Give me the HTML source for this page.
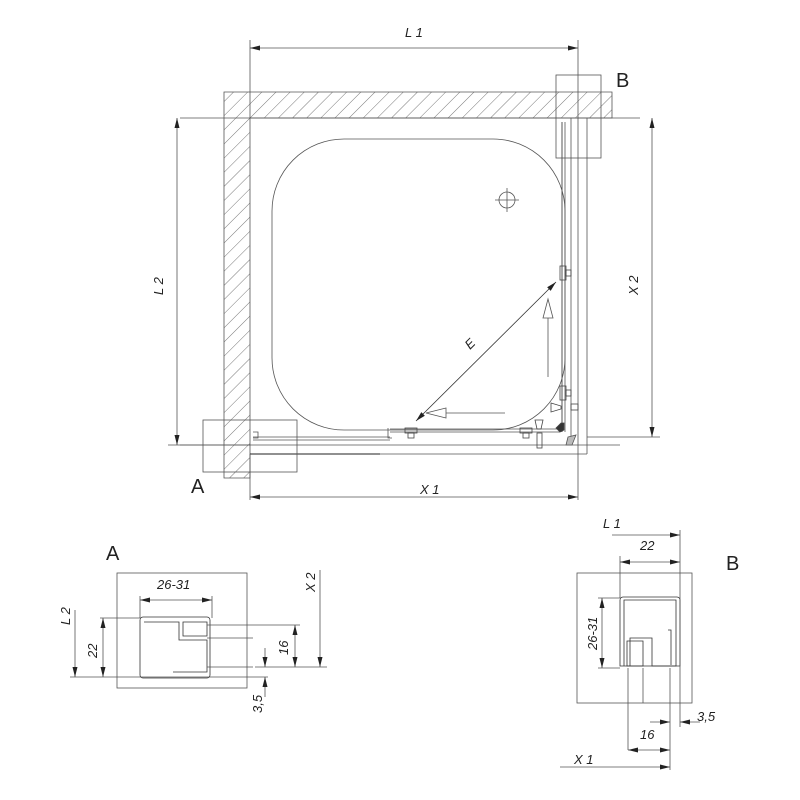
<!DOCTYPE html>
<html><head><meta charset="utf-8"><style>
html,body{margin:0;padding:0;background:#fff;width:800px;height:800px;overflow:hidden}
svg{display:block}
text{font-family:"Liberation Sans",sans-serif;fill:#222}
.it{font-style:italic;font-size:13px}
</style></head><body>
<svg width="800" height="800" viewBox="0 0 800 800" xmlns="http://www.w3.org/2000/svg">
<defs>
<pattern id="h" patternUnits="userSpaceOnUse" width="10" height="10" patternTransform="rotate(45)">
<line x1="0" y1="0" x2="0" y2="10" stroke="#555" stroke-width="0.8"/>
</pattern>
<marker id="ar" markerWidth="10" markerHeight="6" refX="10" refY="3" orient="auto-start-reverse" markerUnits="userSpaceOnUse">
<path d="M0,0.5 L10,3 L0,5.5z" fill="#222"/>
</marker>
</defs>
<g fill="none" stroke="#555" stroke-width="0.8">
<path d="M224,92 H612 V118 H250 V478 H224 Z" fill="url(#h)"/>
<line x1="180" y1="118" x2="640" y2="118"/>
<line x1="180" y1="445" x2="620" y2="445"/>
<line x1="250" y1="40" x2="250" y2="118"/>
<line x1="578" y1="40" x2="578" y2="500"/>
<line x1="250" y1="48" x2="578" y2="48" marker-start="url(#ar)" marker-end="url(#ar)"/>
<rect x="556" y="75" width="45" height="83"/>
<line x1="562" y1="122" x2="562" y2="432" stroke-width="1"/>
<line x1="565" y1="122" x2="565" y2="432"/>
<line x1="571" y1="118" x2="571" y2="445"/>
<line x1="587" y1="118" x2="587" y2="454"/>
<line x1="250" y1="454" x2="587" y2="454"/>
<line x1="250" y1="454" x2="380" y2="454" stroke="#222" stroke-width="1"/>
<line x1="253" y1="437" x2="390" y2="437"/>
<line x1="253" y1="440" x2="390" y2="440"/>
<line x1="390" y1="429" x2="560" y2="429"/>
<line x1="390" y1="432" x2="560" y2="432"/>
<path d="M253,432 h5 v6 h-5"/>
<path d="M388,428 v10 h4"/>
<path d="M568,437 l8,-2 l-4,10 h-6z" fill="#bbb"/>
<g stroke="#444">
<rect x="405" y="428" width="12" height="5"/><rect x="408" y="433" width="6" height="5"/>
<rect x="520" y="428" width="12" height="5"/><rect x="523" y="433" width="6" height="5"/>
<path d="M535,420 h8 l-2,9 h-4z"/><rect x="537" y="433" width="5" height="15"/>
<rect x="560" y="266" width="6" height="14"/><rect x="566" y="270" width="5" height="6"/>
<rect x="560" y="386" width="6" height="14"/><rect x="566" y="390" width="5" height="6"/>
<path d="M551,403 l10,3 v3 l-10,3z"/><rect x="571" y="404" width="7" height="6"/>
<path d="M556,428 l5,-5 h3 v7 l-4,2z" fill="#333"/>
</g>
<rect x="203" y="420" width="94" height="52"/>
<line x1="168" y1="445" x2="250" y2="445"/>
<line x1="177" y1="118" x2="177" y2="445" marker-start="url(#ar)" marker-end="url(#ar)"/>
<line x1="587" y1="437" x2="660" y2="437"/>
<line x1="652" y1="118" x2="652" y2="437" marker-start="url(#ar)" marker-end="url(#ar)"/>
<line x1="250" y1="454" x2="250" y2="500"/>
<line x1="250" y1="497" x2="578" y2="497" marker-start="url(#ar)" marker-end="url(#ar)"/>
<rect x="272" y="139" width="293" height="291" rx="72" ry="72"/>
<circle cx="507" cy="200" r="8"/>
<line x1="495" y1="200" x2="519" y2="200"/><line x1="507" y1="188" x2="507" y2="212"/>
<line x1="416" y1="421" x2="556" y2="282" marker-start="url(#ar)" marker-end="url(#ar)" stroke="#333"/>
<line x1="505" y1="413" x2="446" y2="413"/>
<path d="M446,408 L426,413 L446,418z"/>
<line x1="548" y1="377" x2="548" y2="318"/>
<path d="M543,318 L548,299 L553,318z"/>

<rect x="117" y="573" width="130" height="115"/>
<line x1="140" y1="600" x2="212" y2="600" marker-start="url(#ar)" marker-end="url(#ar)"/>
<line x1="140" y1="596" x2="140" y2="618"/><line x1="212" y1="596" x2="212" y2="618"/>
<path d="M140,620 a3,3 0 0 1 3,-3 h64 a3,3 0 0 1 3,3 v55 a3,3 0 0 1 -3,3 h-64 a3,3 0 0 1 -3,-3z" stroke="#333"/>
<path d="M144,622 h35 v18 h28 v32 h-34" stroke="#333"/>
<path d="M183,622 h24 v14 h-24z" stroke="#333"/>
<line x1="207" y1="625" x2="253" y2="625"/><line x1="207" y1="638" x2="253" y2="638"/><line x1="207" y1="667" x2="253" y2="667"/>
<line x1="70" y1="677" x2="268" y2="677"/>
<line x1="103" y1="618" x2="103" y2="677" marker-start="url(#ar)" marker-end="url(#ar)"/>
<line x1="100" y1="618" x2="140" y2="618"/>
<line x1="75" y1="610" x2="75" y2="677" marker-end="url(#ar)"/>
<line x1="255" y1="667" x2="327" y2="667"/><line x1="253" y1="625" x2="300" y2="625"/>
<line x1="295" y1="625" x2="295" y2="667" marker-start="url(#ar)" marker-end="url(#ar)"/>
<line x1="320" y1="570" x2="320" y2="667" marker-end="url(#ar)"/>
<line x1="265" y1="648" x2="265" y2="667" marker-end="url(#ar)"/>
<line x1="265" y1="697" x2="265" y2="677" marker-end="url(#ar)"/>

<rect x="577" y="573" width="115" height="130"/>
<path d="M620,600 a3,3 0 0 1 3,-3 h54 a3,3 0 0 1 3,3 v66 h-60z" stroke="#333"/>
<path d="M624,666 v-66 h52 v66 h-24 v-28 h-22 v28" stroke="#333"/>
<path d="M627,641 h16 v25 h-16z" stroke="#333"/>
<path d="M668,630 h3 v35" stroke="#333"/>
<line x1="628" y1="668" x2="628" y2="750"/><line x1="643" y1="668" x2="643" y2="703"/><line x1="670" y1="668" x2="670" y2="770"/>
<line x1="680" y1="530" x2="680" y2="727"/>
<line x1="620" y1="556" x2="620" y2="598"/>
<line x1="612" y1="535" x2="680" y2="535" marker-end="url(#ar)"/>
<line x1="620" y1="562" x2="680" y2="562" marker-start="url(#ar)" marker-end="url(#ar)"/>
<line x1="598" y1="598" x2="620" y2="598"/><line x1="598" y1="668" x2="620" y2="668"/>
<line x1="602" y1="598" x2="602" y2="668" marker-start="url(#ar)" marker-end="url(#ar)"/>
<line x1="650" y1="722" x2="670" y2="722" marker-end="url(#ar)"/>
<line x1="700" y1="722" x2="680" y2="722" marker-end="url(#ar)"/>
<line x1="628" y1="750" x2="670" y2="750" marker-start="url(#ar)" marker-end="url(#ar)"/>
<line x1="560" y1="767" x2="670" y2="767" marker-end="url(#ar)"/>
</g>

<text class="it" x="405" y="37">L 1</text>
<text x="616" y="87" font-size="20">B</text>
<text x="191" y="493" font-size="20">A</text>
<text class="it" x="420" y="494">X 1</text>
<text class="it" transform="translate(163,295) rotate(-90)">L 2</text>
<text class="it" transform="translate(638,295) rotate(-90)">X 2</text>
<text class="it" transform="translate(470,350) rotate(-45)">E</text>

<text x="106" y="560" font-size="20">A</text>
<text class="it" x="157" y="589">26-31</text>
<text class="it" transform="translate(70,625) rotate(-90)">L 2</text>
<text class="it" transform="translate(97,658) rotate(-90)">22</text>
<text class="it" transform="translate(288,655) rotate(-90)">16</text>
<text class="it" transform="translate(315,592) rotate(-90)">X 2</text>
<text class="it" transform="translate(262,713) rotate(-90)">3,5</text>

<text x="726" y="570" font-size="20">B</text>
<text class="it" x="603" y="528">L 1</text>
<text class="it" x="640" y="550">22</text>
<text class="it" transform="translate(597,650) rotate(-90)">26-31</text>
<text class="it" x="697" y="721">3,5</text>
<text class="it" x="640" y="739">16</text>
<text class="it" x="574" y="764">X 1</text>
</svg>
</body></html>
